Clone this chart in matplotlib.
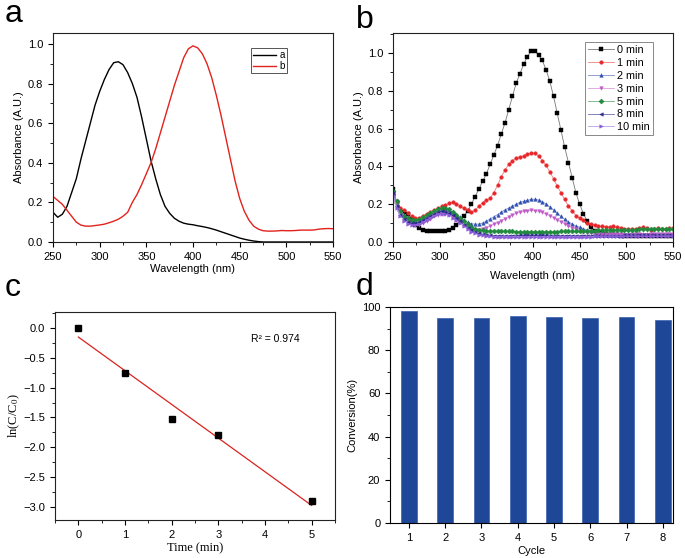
import numpy as np
import matplotlib
matplotlib.use("Agg")
import matplotlib.pyplot as plt
from matplotlib.ticker import MultipleLocator

plt.rcParams['font.family'] = ['Liberation Sans', 'DejaVu Sans']
plt.rcParams['font.size'] = 8
plt.rcParams['mathtext.fontset'] = 'stix'

# ---- panel a : UV-vis spectra ----
wl_a = np.arange(250, 551, 5)
abs_a = [0.15, 0.125, 0.14, 0.18, 0.25, 0.32, 0.42, 0.51, 0.60, 0.69,
         0.76, 0.82, 0.87, 0.905, 0.91, 0.895, 0.855, 0.80, 0.73, 0.63,
         0.52, 0.41, 0.32, 0.24, 0.18, 0.145, 0.12, 0.105, 0.095, 0.09,
         0.087, 0.082, 0.078, 0.073, 0.067, 0.06, 0.052, 0.044, 0.036, 0.028,
         0.02, 0.014, 0.009, 0.005, 0.002, 0.0, 0.0, 0.0, 0.0, 0.0,
         0.0, 0.0, 0.0, 0.0, 0.0, 0.0, 0.0, 0.0, 0.0, 0.0, 0.0]
abs_b = [0.23, 0.21, 0.19, 0.16, 0.13, 0.10, 0.085, 0.08, 0.08, 0.083,
         0.086, 0.09, 0.097, 0.105, 0.115, 0.13, 0.15, 0.20, 0.24, 0.29,
         0.345, 0.40, 0.47, 0.55, 0.63, 0.71, 0.79, 0.86, 0.93, 0.975,
         0.99, 0.98, 0.95, 0.90, 0.83, 0.74, 0.64, 0.53, 0.42, 0.31,
         0.22, 0.155, 0.11, 0.08, 0.065, 0.057, 0.055, 0.055, 0.056, 0.058,
         0.057, 0.057, 0.058, 0.06, 0.06, 0.06, 0.061, 0.065, 0.067, 0.068, 0.067]

# ---- panel b : spectra vs time ----
wl_b = np.arange(250, 551, 4)
spec_labels = ['0 min', '1 min', '2 min', '3 min', '5 min', '8 min', '10 min']
spec_0 = [0.28, 0.21, 0.17, 0.16, 0.15, 0.12, 0.09, 0.072, 0.063, 0.06,
          0.058, 0.057, 0.057, 0.058, 0.06, 0.065, 0.075, 0.09, 0.11, 0.135,
          0.165, 0.2, 0.24, 0.28, 0.32, 0.36, 0.41, 0.46, 0.51, 0.57,
          0.63, 0.70, 0.77, 0.84, 0.89, 0.94, 0.98, 1.01, 1.01, 0.99,
          0.96, 0.91, 0.85, 0.77, 0.68, 0.59, 0.50, 0.42, 0.34, 0.26,
          0.20, 0.15, 0.11, 0.08, 0.06, 0.05, 0.045, 0.04, 0.038, 0.036,
          0.035, 0.034, 0.034, 0.033, 0.033, 0.033, 0.032, 0.032, 0.032, 0.032,
          0.032, 0.032, 0.031, 0.031, 0.031, 0.031]
spec_1 = [0.25, 0.21, 0.18, 0.17, 0.155, 0.135, 0.125, 0.128, 0.138, 0.15,
          0.158, 0.17, 0.178, 0.188, 0.195, 0.205, 0.213, 0.203, 0.19, 0.178,
          0.168, 0.16, 0.168, 0.19, 0.208, 0.222, 0.23, 0.26, 0.3, 0.345,
          0.38, 0.41, 0.43, 0.445, 0.45, 0.455, 0.465, 0.472, 0.468, 0.455,
          0.43, 0.405, 0.37, 0.335, 0.295, 0.26, 0.225, 0.19, 0.165, 0.14,
          0.125, 0.115, 0.102, 0.095, 0.09, 0.085, 0.082, 0.08, 0.08, 0.082,
          0.078, 0.075, 0.07, 0.07, 0.068, 0.07, 0.072, 0.078, 0.072, 0.066,
          0.07, 0.075, 0.07, 0.068, 0.072, 0.075]
spec_2 = [0.26, 0.2, 0.165, 0.145, 0.13, 0.118, 0.11, 0.112, 0.12, 0.13,
          0.143, 0.155, 0.163, 0.17, 0.172, 0.168, 0.158, 0.145, 0.13, 0.116,
          0.104, 0.097, 0.094, 0.095, 0.1, 0.11, 0.122, 0.133, 0.145, 0.158,
          0.17, 0.18, 0.19, 0.2, 0.21, 0.215, 0.22, 0.226, 0.226, 0.222,
          0.214, 0.2, 0.185, 0.17, 0.152, 0.135, 0.12, 0.106, 0.095, 0.085,
          0.078, 0.07, 0.064, 0.058, 0.054, 0.05, 0.048, 0.047, 0.046, 0.045,
          0.045, 0.044, 0.044, 0.044, 0.043, 0.043, 0.043, 0.043, 0.043, 0.043,
          0.043, 0.043, 0.044, 0.044, 0.044, 0.044]
spec_3 = [0.24, 0.18, 0.145, 0.125, 0.108, 0.096, 0.09, 0.092, 0.1, 0.11,
          0.123, 0.135, 0.143, 0.148, 0.148, 0.142, 0.132, 0.118, 0.104, 0.09,
          0.078, 0.07, 0.066, 0.066, 0.07, 0.076, 0.084, 0.093, 0.103, 0.113,
          0.124, 0.134, 0.143, 0.151, 0.157, 0.162, 0.165, 0.167, 0.166, 0.162,
          0.156, 0.148, 0.139, 0.129, 0.118, 0.107, 0.096, 0.086, 0.076, 0.068,
          0.06, 0.054, 0.05, 0.047, 0.045, 0.043, 0.042, 0.041, 0.04, 0.04,
          0.04, 0.04, 0.039, 0.039, 0.04, 0.04, 0.04, 0.039, 0.039, 0.04,
          0.04, 0.04, 0.041, 0.041, 0.041, 0.041]
spec_5 = [0.27, 0.215, 0.165, 0.14, 0.125, 0.118, 0.116, 0.12, 0.13, 0.142,
          0.155, 0.166, 0.175, 0.18, 0.179, 0.172, 0.16, 0.145, 0.128, 0.11,
          0.094, 0.08, 0.071, 0.065, 0.062, 0.06, 0.058, 0.058, 0.057, 0.057,
          0.056, 0.056, 0.056, 0.055, 0.055, 0.055, 0.055, 0.055, 0.055, 0.055,
          0.055, 0.055, 0.055, 0.055, 0.055, 0.056, 0.056, 0.056, 0.057, 0.057,
          0.058, 0.058, 0.059, 0.06, 0.06, 0.061, 0.062, 0.062, 0.063, 0.063,
          0.064, 0.064, 0.065, 0.065, 0.066, 0.066, 0.067, 0.067, 0.068, 0.068,
          0.069, 0.069, 0.07, 0.07, 0.071, 0.071]
spec_8 = [0.26, 0.19, 0.145, 0.122, 0.108, 0.1, 0.1, 0.105, 0.115, 0.126,
          0.138, 0.15, 0.158, 0.162, 0.16, 0.153, 0.141, 0.126, 0.109, 0.091,
          0.075, 0.062, 0.052, 0.045, 0.04, 0.037, 0.035, 0.034, 0.034, 0.033,
          0.033, 0.034, 0.034, 0.034, 0.035, 0.035, 0.035, 0.035, 0.035, 0.035,
          0.035, 0.035, 0.034, 0.034, 0.034, 0.034, 0.034, 0.034, 0.034, 0.034,
          0.034, 0.034, 0.034, 0.034, 0.034, 0.034, 0.034, 0.034, 0.034, 0.034,
          0.034, 0.034, 0.035, 0.035, 0.035, 0.035, 0.035, 0.035, 0.035, 0.035,
          0.035, 0.035, 0.035, 0.035, 0.035, 0.035]
spec_10 = [0.25, 0.18, 0.135, 0.112, 0.097, 0.09, 0.089, 0.094, 0.104, 0.116,
           0.128, 0.139, 0.147, 0.15, 0.148, 0.141, 0.129, 0.114, 0.098, 0.082,
           0.067, 0.054, 0.045, 0.039, 0.035, 0.032, 0.03, 0.029, 0.029, 0.029,
           0.029, 0.029, 0.029, 0.029, 0.029, 0.029, 0.029, 0.029, 0.029, 0.029,
           0.029, 0.029, 0.029, 0.029, 0.029, 0.029, 0.029, 0.029, 0.029, 0.029,
           0.029, 0.029, 0.029, 0.029, 0.03, 0.03, 0.03, 0.03, 0.03, 0.03,
           0.03, 0.03, 0.03, 0.03, 0.03, 0.03, 0.03, 0.03, 0.03, 0.03,
           0.03, 0.03, 0.031, 0.031, 0.031, 0.031]

# ---- panel c : kinetics ----
time_min = [0, 1, 2, 3, 5]
ln_ratio = [0.0, -0.76, -1.52, -1.80, -2.89]

# ---- panel d : recycling ----
cycles = [1, 2, 3, 4, 5, 6, 7, 8]
conversion = [98.0, 95.0, 94.8, 95.8, 95.5, 94.8, 95.5, 94.2]

W, H = 685, 558
fig = plt.figure(figsize=(W / 100, H / 100), dpi=100)


def box(l, t, r, b):
    return [l / W, 1 - b / H, (r - l) / W, (b - t) / H]


def style(ax):
    ax.tick_params(which='both', direction='out', top=False, right=False, labelsize=8)
    ax.tick_params(which='major', length=3.5, width=0.8)
    ax.tick_params(which='minor', length=2, width=0.6)
    for s in ax.spines.values():
        s.set_linewidth(0.8)
        s.set_color('#222222')


# a
ax1 = fig.add_axes(box(53, 33, 333, 242))
ax1.plot(wl_a, abs_a, color='black', lw=1.0, label='a')
ax1.plot(wl_a, abs_b, color='#e3221c', lw=1.0, label='b')
ax1.set_xlim(250, 550)
ax1.set_ylim(0, 1.055)
ax1.xaxis.set_major_locator(MultipleLocator(50))
ax1.xaxis.set_minor_locator(MultipleLocator(25))
ax1.set_yticks(np.arange(0, 1.01, 0.2))
ax1.set_yticklabels(['0.0', '0.2', '0.4', '0.6', '0.8', '1.0'])
ax1.yaxis.set_minor_locator(MultipleLocator(0.1))
ax1.set_xlabel('Wavelength (nm)', labelpad=2)
ax1.set_ylabel('Absorbance (A.U.)', labelpad=3)
style(ax1)
leg = ax1.legend(loc='upper right', bbox_to_anchor=(0.836, 0.93), borderaxespad=0,
                 fontsize=7, handlelength=2.4, handletextpad=0.3, labelspacing=0.1,
                 borderpad=0.25, fancybox=False, framealpha=1)
leg.get_frame().set_edgecolor('#555555')
leg.get_frame().set_linewidth(0.7)

# b
ax2 = fig.add_axes(box(393, 33, 673, 242))
b_series = [spec_0, spec_1, spec_2, spec_3, spec_5, spec_8, spec_10]
b_colors = ['black', '#e8262a', '#2f4fb0', '#c05ac8', '#1f8a3c', '#2c2c8a', '#8a5ad8']
b_line = ['#777777', '#f08080', '#8090d0', '#d8a0d8', '#70b080', '#7070b0', '#b8a0e8']
b_markers = ['s', 'o', '^', 'v', 'D', '<', '>']
for ys, lab, c, lc, m in zip(b_series, spec_labels, b_colors, b_line, b_markers):
    ax2.plot(wl_b, ys, color=lc, lw=0.6, marker=m, markersize=2.6,
             markerfacecolor=c, markeredgecolor=c, markeredgewidth=0.3, label=lab)
ax2.set_xlim(250, 550)
ax2.set_ylim(0, 1.105)
ax2.xaxis.set_major_locator(MultipleLocator(50))
ax2.xaxis.set_minor_locator(MultipleLocator(25))
ax2.set_yticks(np.arange(0, 1.01, 0.2))
ax2.set_yticklabels(['0.0', '0.2', '0.4', '0.6', '0.8', '1.0'])
ax2.yaxis.set_minor_locator(MultipleLocator(0.1))
ax2.set_xlabel('Wavelength (nm)', labelpad=7)
ax2.set_ylabel('Absorbance (A.U.)', labelpad=3)
style(ax2)
leg2 = ax2.legend(loc='upper right', bbox_to_anchor=(0.93, 0.957), borderaxespad=0,
                  fontsize=7.8, handlelength=2.4, handletextpad=0.3, labelspacing=0.26,
                  borderpad=0.3, fancybox=False, framealpha=1)
leg2.get_frame().set_edgecolor('#888888')
leg2.get_frame().set_linewidth(0.7)

# c
ax3 = fig.add_axes(box(55, 312, 335, 520))
slope, icpt = np.polyfit(time_min, ln_ratio, 1)
fit_x = np.array([time_min[0], time_min[-1]])
ax3.plot(fit_x, slope * fit_x + icpt, color='#d9231f', lw=0.9)
ax3.plot(time_min, ln_ratio, 's', color='black', markersize=4.2)
ax3.set_xlim(-0.5, 5.5)
ax3.set_ylim(-3.21, 0.26)
ax3.xaxis.set_major_locator(MultipleLocator(1))
ax3.xaxis.set_minor_locator(MultipleLocator(0.5))
ax3.yaxis.set_major_locator(MultipleLocator(0.5))
ax3.yaxis.set_minor_locator(MultipleLocator(0.25))
ax3.set_xlabel('Time (min)', family=['Liberation Serif', 'DejaVu Serif'], fontsize=9, labelpad=2)
ax3.set_ylabel(r'ln(C/C$_0$)', family=['Liberation Serif', 'DejaVu Serif'], fontsize=9, labelpad=1)
ax3.text(0.70, 0.855, 'R² = 0.974', transform=ax3.transAxes, fontsize=7.5)
style(ax3)

# d
ax4 = fig.add_axes(box(390, 307, 673, 523))
ax4.bar(cycles, conversion, width=0.43, color='#1f4798', edgecolor='#3a62b0', linewidth=0.5)
ax4.set_xlim(0.48, 8.28)
ax4.set_ylim(0, 100)
ax4.set_xticks(cycles)
ax4.yaxis.set_major_locator(MultipleLocator(20))
ax4.yaxis.set_minor_locator(MultipleLocator(10))
ax4.set_xlabel('Cycle', labelpad=2)
ax4.set_ylabel('Conversion(%)', labelpad=3)
style(ax4)
for s in ax4.spines.values():
    s.set_color('black')

# panel letters
for txt, x, y in [('a', 5, 22), ('b', 356, 28), ('c', 5, 296), ('d', 356, 295)]:
    fig.text(x / W, 1 - y / H, txt, fontsize=23, ha='left', va='baseline')

fig.savefig('out.png', dpi=100)
